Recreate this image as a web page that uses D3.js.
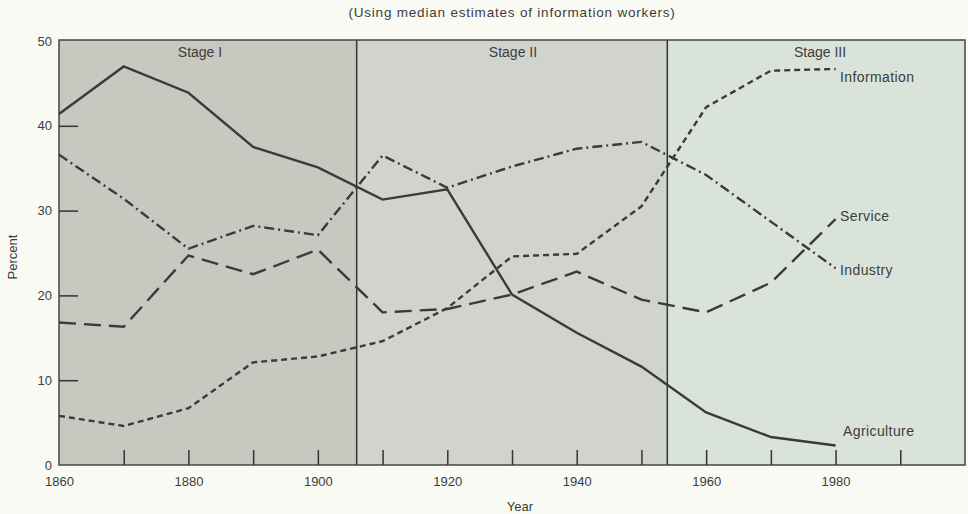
<!DOCTYPE html>
<html>
<head>
<meta charset="utf-8">
<script src="https://cdn.jsdelivr.net/npm/d3@7"></script>
<style>
  body { margin: 0; background: #f9faf3; }
  svg { display: block; }
  text { font-family: "Liberation Sans", Arial, sans-serif; fill: #3c3c3c; }
</style>
</head>
<body>
<svg id="chart" width="968" height="514"></svg>
<script>
// data
var years = [1860, 1870, 1880, 1890, 1900, 1910, 1920, 1930, 1940, 1950, 1960, 1970, 1980];
var agriculture = [41.4, 47.0, 43.9, 37.5, 35.1, 31.3, 32.5, 20.1, 15.6, 11.6, 6.2, 3.3, 2.3];
var industry    = [36.6, 31.4, 25.5, 28.2, 27.1, 36.5, 32.7, 35.2, 37.3, 38.1, 34.2, 28.7, 23.2];
var information = [5.8, 4.6, 6.7, 12.1, 12.8, 14.6, 18.5, 24.6, 24.9, 30.5, 42.2, 46.5, 46.7];
var service     = [16.8, 16.3, 24.7, 22.5, 25.4, 18.0, 18.4, 20.1, 22.8, 19.5, 18.0, 21.5, 29.0];

var stageNames = ["Stage I", "Stage II", "Stage III"];
var stageBreaks = [1860, 1906, 1954, 2000];
var xTickYears = [1870, 1880, 1890, 1900, 1910, 1920, 1930, 1940, 1950, 1960, 1970, 1980, 1990];
var xLabelYears = [1860, 1880, 1900, 1920, 1940, 1960, 1980];
var yTicks = [10, 20, 30, 40];
var yLabels = [0, 10, 20, 30, 40, 50];

var svg = d3.select('#chart');

var x = d3.scaleLinear().domain([1860, 2000]).range([59, 965]);
var y = d3.scaleLinear().domain([0, 50]).range([465, 41]);

// stage backgrounds
var stageFill = ['#c7c9c1', '#d1d4cc', '#d9e3da'];
svg.append('g').selectAll('rect')
  .data(stageNames)
  .enter().append('rect')
  .attr('x', (d, i) => x(stageBreaks[i]))
  .attr('width', (d, i) => x(stageBreaks[i + 1]) - x(stageBreaks[i]))
  .attr('y', y(50) - 1)
  .attr('height', y(0) - y(50) + 1)
  .attr('fill', (d, i) => stageFill[i]);

svg.append('g').selectAll('text')
  .data(stageNames)
  .enter().append('text')
  .attr('x', (d, i) => [200, 513, 820][i])
  .attr('y', 57)
  .attr('text-anchor', 'middle')
  .attr('font-size', '14px')
  .text(d => d);

// stage dividers
svg.append('g').selectAll('line')
  .data(stageBreaks.slice(1, 3))
  .enter().append('line')
  .attr('x1', d => x(d)).attr('x2', d => x(d))
  .attr('y1', y(50) - 1).attr('y2', y(0))
  .attr('stroke', '#333').attr('stroke-width', 1.5);

// frame
svg.append('rect')
  .attr('x', x(1860)).attr('y', y(50) - 1)
  .attr('width', x(2000) - x(1860)).attr('height', y(0) - y(50) + 1)
  .attr('fill', 'none').attr('stroke', '#444').attr('stroke-width', 1.5);

// x ticks (inside, pointing up)
svg.append('g')
  .attr('transform', `translate(0,${y(0)})`)
  .call(d3.axisBottom(x).tickValues(xTickYears).tickSize(-15).tickFormat(''))
  .call(g => g.select('.domain').remove())
  .call(g => g.selectAll('.tick line').attr('stroke', '#333').attr('stroke-width', 1.5));

svg.append('g')
  .attr('transform', `translate(0,${y(0)})`)
  .call(d3.axisBottom(x).tickValues(xLabelYears).tickSize(0).tickPadding(12).tickFormat(d3.format('d')))
  .call(g => g.select('.domain').remove())
  .call(g => g.selectAll('.tick text').attr('font-size', '13px').attr('font-family', '"Liberation Sans", Arial, sans-serif').attr('fill', '#3c3c3c'));

// y ticks (inside, pointing right)
svg.append('g')
  .attr('transform', `translate(${x(1860)},0)`)
  .call(d3.axisLeft(y).tickValues(yTicks).tickSize(-19).tickFormat(''))
  .call(g => g.select('.domain').remove())
  .call(g => g.selectAll('.tick line').attr('stroke', '#333').attr('stroke-width', 1.5));

svg.append('g')
  .attr('transform', `translate(${x(1860)},0)`)
  .call(d3.axisLeft(y).tickValues(yLabels).tickSize(0).tickPadding(7))
  .call(g => g.select('.domain').remove())
  .call(g => g.selectAll('.tick text').attr('font-size', '13px').attr('font-family', '"Liberation Sans", Arial, sans-serif').attr('fill', '#3c3c3c'));

// series lines
var line = d3.line()
  .x((d, i) => x(years[i]))
  .y(d => y(d));

var series = [
  { name: 'Agriculture', values: agriculture, dash: null, labelY: 436 },
  { name: 'Industry', values: industry, dash: '10,4,2,4', labelY: 275 },
  { name: 'Information', values: information, dash: '6,4', labelY: 82 },
  { name: 'Service', values: service, dash: '17,8', labelY: 221 }
];

svg.append('g').selectAll('path')
  .data(series)
  .enter().append('path')
  .attr('d', d => line(d.values))
  .attr('fill', 'none')
  .attr('stroke', '#3a3a3a')
  .attr('stroke-width', 2.4)
  .attr('stroke-dasharray', d => d.dash);

svg.append('g').selectAll('text')
  .data(series)
  .enter().append('text')
  .attr('x', d => d.name == 'Agriculture' ? 843 : 840)
  .attr('y', d => d.labelY)
  .attr('font-size', '14px')
  .attr('letter-spacing', '0.4px')
  .text(d => d.name);

// titles
svg.append('text')
  .attr('x', 512).attr('y', 17)
  .attr('text-anchor', 'middle')
  .attr('font-size', '13.5px')
  .attr('letter-spacing', '0.8px')
  .text('(Using median estimates of information workers)');

svg.append('text')
  .attr('transform', 'rotate(-90)')
  .attr('x', -257).attr('y', 17)
  .attr('text-anchor', 'middle')
  .attr('font-size', '13px')
  .text('Percent');

svg.append('text')
  .attr('x', 520).attr('y', 511)
  .attr('text-anchor', 'middle')
  .attr('font-size', '13px')
  .text('Year');
</script>
</body>
</html>
